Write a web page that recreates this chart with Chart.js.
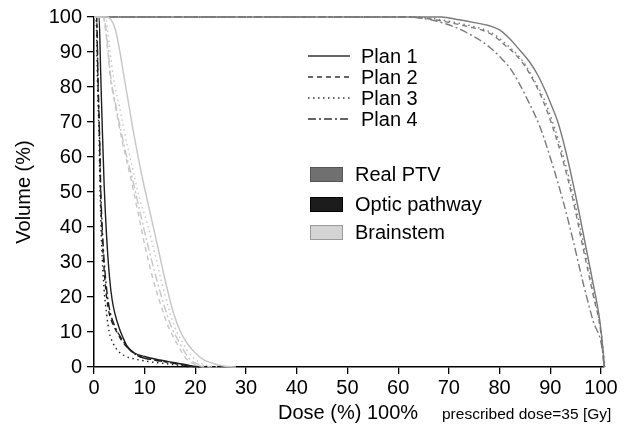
<!DOCTYPE html>
<html>
<head>
<meta charset="utf-8">
<script src="https://cdn.jsdelivr.net/npm/chart.js@4"></script>
<style>
html,body{margin:0;padding:0;background:#fff;}
#wrap{position:relative;width:632px;height:436px;}
canvas{display:block;}
</style>
</head>
<body>
<div id="wrap"><canvas id="c" width="632" height="436"></canvas></div>
<script>
// ---- Data (dose %, volume %) ----
const xTicks = [0,10,20,30,40,50,60,70,80,90,100];
const yTicks = [0,10,20,30,40,50,60,70,80,90,100];
const planNames = ['Plan 1','Plan 2','Plan 3','Plan 4'];
const structureNames = ['Real PTV','Optic pathway','Brainstem'];

const ptvPlan1 = [[0,100],[68.5,100],[72,99.2],[75,98.4],[78,97.5],[80,96.3],[82,93.8],[84,90.5],[86,87],[87.5,83.5],[89,79],[90.3,74.5],[91.5,70],[93,62],[95,49],[97,34.5],[98.5,23.5],[99.8,13],[100.4,5],[100.7,0]];
const ptvPlan2 = [[0,100],[62,100],[66,99.5],[69.5,98.6],[74,97.2],[77,96],[79,94.5],[81,92],[83,89.5],[85,86],[87,81],[88.6,76],[90.5,68.5],[92.5,59],[94.5,47.6],[96.4,34.5],[98.4,21],[100,9.5],[100.6,0]];
const ptvPlan3 = [[0,100],[63,100],[67,99.5],[70,98.8],[74,97.6],[77,96.4],[79,95],[81,92.6],[83,90],[85,86.5],[87,81.5],[88.8,76.5],[90.7,69],[92.7,59.5],[94.7,48],[96.6,35],[98.6,21.5],[100.2,8],[100.8,0]];
const ptvPlan4 = [[0,100],[62,100],[66,99.3],[69.5,98],[72,96.6],[74.2,95],[76,93.5],[78.1,91.3],[80,88.7],[82,85.5],[83.7,81.5],[85.3,77],[88,68.5],[90.5,57.5],[92.5,47.6],[94.5,36.2],[96.4,24.5],[98.4,13.4],[100.4,3.5],[100.6,0]];

const opticPlan1 = [[0,100],[1.0,100],[1.3,85],[1.6,70],[2.0,52],[2.5,37],[3.1,25],[3.6,19],[4.1,15.4],[5,11],[5.7,8.5],[6.5,6],[8,4],[10,3],[13,2],[16,1.2],[19,0.4],[21,0]];
const opticPlan2 = [[0,100],[0.5,100],[0.8,80],[1.1,65],[1.3,50],[1.7,35],[2.2,24],[2.9,16],[3.5,13],[4.5,10],[5.5,7.5],[7,5],[9,3],[12,2],[15,1.3],[18,0.5],[20,0]];
const opticPlan3 = [[0,100],[0.4,100],[0.7,80],[1.0,65],[1.2,50],[1.5,35],[2.0,22],[2.5,15],[3.0,10],[3.7,7],[4.5,5],[6,3.2],[8,2.3],[11,1.5],[15,0.8],[19,0]];
const opticPlan4 = [[0,100],[0.5,100],[0.8,82],[1.1,66],[1.35,50],[1.8,35],[2.3,25],[3.0,17],[4,12],[5.5,8],[7,5],[9,3],[12,2],[16,1],[20,0]];

const brainPlan1 = [[0,100],[2.5,100],[3.3,99.3],[4.2,96.5],[5,91],[5.8,84],[6.8,75.5],[7.8,67],[9.4,55],[11,44.5],[12.7,33.5],[14,25],[15.6,15.8],[17,10.3],[18.5,6.5],[20,4],[21.5,2.2],[23.5,1],[25.5,0.3],[28,0]];
const brainPlan2 = [[0,100],[1.8,100],[2.3,96],[2.8,89],[3.2,83],[4.3,74],[5.4,65.6],[6.4,59.3],[7.4,53],[8.7,44],[10.1,34.3],[11.7,24.8],[13.7,15.4],[14.8,11],[16,7.7],[17.2,4.5],[18.3,2.2],[19.8,0.8],[22,0]];
const brainPlan3 = [[0,100],[2.2,100],[2.7,96],[3.2,90],[3.8,83],[5,74.5],[6.1,66.5],[7.5,57.5],[9,48],[10.5,41],[12,32.5],[13.3,24.5],[15,15.4],[16.2,10.5],[17.3,7.5],[18.5,4.5],[19.5,2.8],[21,1.2],[23,0.3],[25,0]];
const brainPlan4 = [[0,100],[1.9,100],[2.4,96],[2.9,89],[3.3,83],[4.4,74],[5.6,65.6],[6.6,59.3],[7.7,53],[9.2,43.5],[10.7,34.3],[12.4,24.8],[14.3,15.4],[15.4,11],[16.6,7.7],[17.8,4.5],[18.9,2.2],[20.5,0.8],[23,0]];

// ---- Styles ----
const FONT = "'Liberation Sans', Arial, Helvetica, sans-serif";
const structColors = ['#7a7a7a', '#1e1e1e', '#c6c6c6'];
const boxFill = ['#707070', '#1c1c1c', '#d4d4d4'];
const boxStroke = ['#555555', '#000000', '#9a9a9a'];
const planDash = [[], [5,4], [1.5,3.5], [8,3,2,3]];

const groups = [
  [brainPlan1, brainPlan2, brainPlan3, brainPlan4],
  [opticPlan1, opticPlan2, opticPlan3, opticPlan4],
  [ptvPlan1, ptvPlan2, ptvPlan3, ptvPlan4]
];
const groupColor = [structColors[2], structColors[1], structColors[0]];
const groupName = [structureNames[2], structureNames[1], structureNames[0]];

const datasets = [];
groups.forEach((g, gi) => {
  g.forEach((series, pi) => {
    datasets.push({
      label: groupName[gi] + ' ' + planNames[pi],
      data: series.map(p => ({x: p[0], y: p[1]})),
      borderColor: groupColor[gi],
      borderWidth: 1.4,
      borderDash: planDash[pi],
      pointRadius: 0,
      fill: false,
      cubicInterpolationMode: 'monotone',
      clip: false
    });
  });
});

const legendPlugin = {
  id: 'customLegend',
  afterDraw(chart) {
    const ctx = chart.ctx;
    ctx.save();
    // Plan line-style legend
    const ly = [56, 77, 98, 119];
    planNames.forEach((name, i) => {
      ctx.beginPath();
      ctx.setLineDash(planDash[i]);
      ctx.strokeStyle = '#333';
      ctx.lineWidth = 1.3;
      ctx.moveTo(308, ly[i]);
      ctx.lineTo(350, ly[i]);
      ctx.stroke();
      ctx.setLineDash([]);
      ctx.fillStyle = '#000';
      ctx.font = '20px ' + FONT;
      ctx.textBaseline = 'middle';
      ctx.textAlign = 'left';
      ctx.fillText(name, 361, ly[i] + 1);
    });
    // Structure colour legend
    const by = [167, 197, 225];
    structureNames.forEach((name, i) => {
      ctx.fillStyle = boxFill[i];
      ctx.fillRect(310, by[i], 33, 15);
      ctx.strokeStyle = boxStroke[i];
      ctx.lineWidth = 1;
      ctx.strokeRect(310.5, by[i] + 0.5, 32, 14);
      ctx.fillStyle = '#000';
      ctx.font = '20px ' + FONT;
      ctx.textBaseline = 'middle';
      ctx.fillText(name, 355, by[i] + 8);
    });
    // X axis title
    ctx.textBaseline = 'alphabetic';
    ctx.font = '20px ' + FONT;
    ctx.fillText('Dose (%) 100%', 278, 419);
    ctx.font = '15.5px ' + FONT;
    ctx.fillText('prescribed dose=35 [Gy]', 442, 419);
    ctx.restore();
  }
};

new Chart(document.getElementById('c'), {
  type: 'line',
  data: { datasets },
  options: {
    responsive: false,
    animation: false,
    devicePixelRatio: 1,
    layout: { padding: { top: 16, right: 28, left: 0, bottom: 0 } },
    plugins: { legend: { display: false }, tooltip: { enabled: false } },
    scales: {
      x: {
        type: 'linear', min: 0, max: 100.6,
        afterFit(s) { s.height = 69; },
        afterBuildTicks(s) { s.ticks = xTicks.map(v => ({ value: v })); },
        ticks: { color: '#000', font: { size: 20, family: FONT }, padding: 2, maxRotation: 0, autoSkip: false },
        grid: { drawOnChartArea: false, drawTicks: true, tickLength: 7, color: '#000', lineWidth: 1.3 },
        border: { color: '#000', width: 1.5 }
      },
      y: {
        type: 'linear', min: 0, max: 100,
        afterFit(s) { s.width = 94; },
        afterBuildTicks(s) { s.ticks = yTicks.map(v => ({ value: v })); },
        ticks: { color: '#000', font: { size: 20, family: FONT }, padding: 5, autoSkip: false },
        grid: { drawOnChartArea: false, drawTicks: true, tickLength: 7, color: '#000', lineWidth: 1.3 },
        border: { color: '#000', width: 1.5 },
        title: { display: true, text: 'Volume (%)', color: '#000', font: { size: 20, family: FONT }, padding: { top: 12, bottom: 0 } }
      }
    }
  },
  plugins: [legendPlugin]
});
</script>
</body>
</html>
